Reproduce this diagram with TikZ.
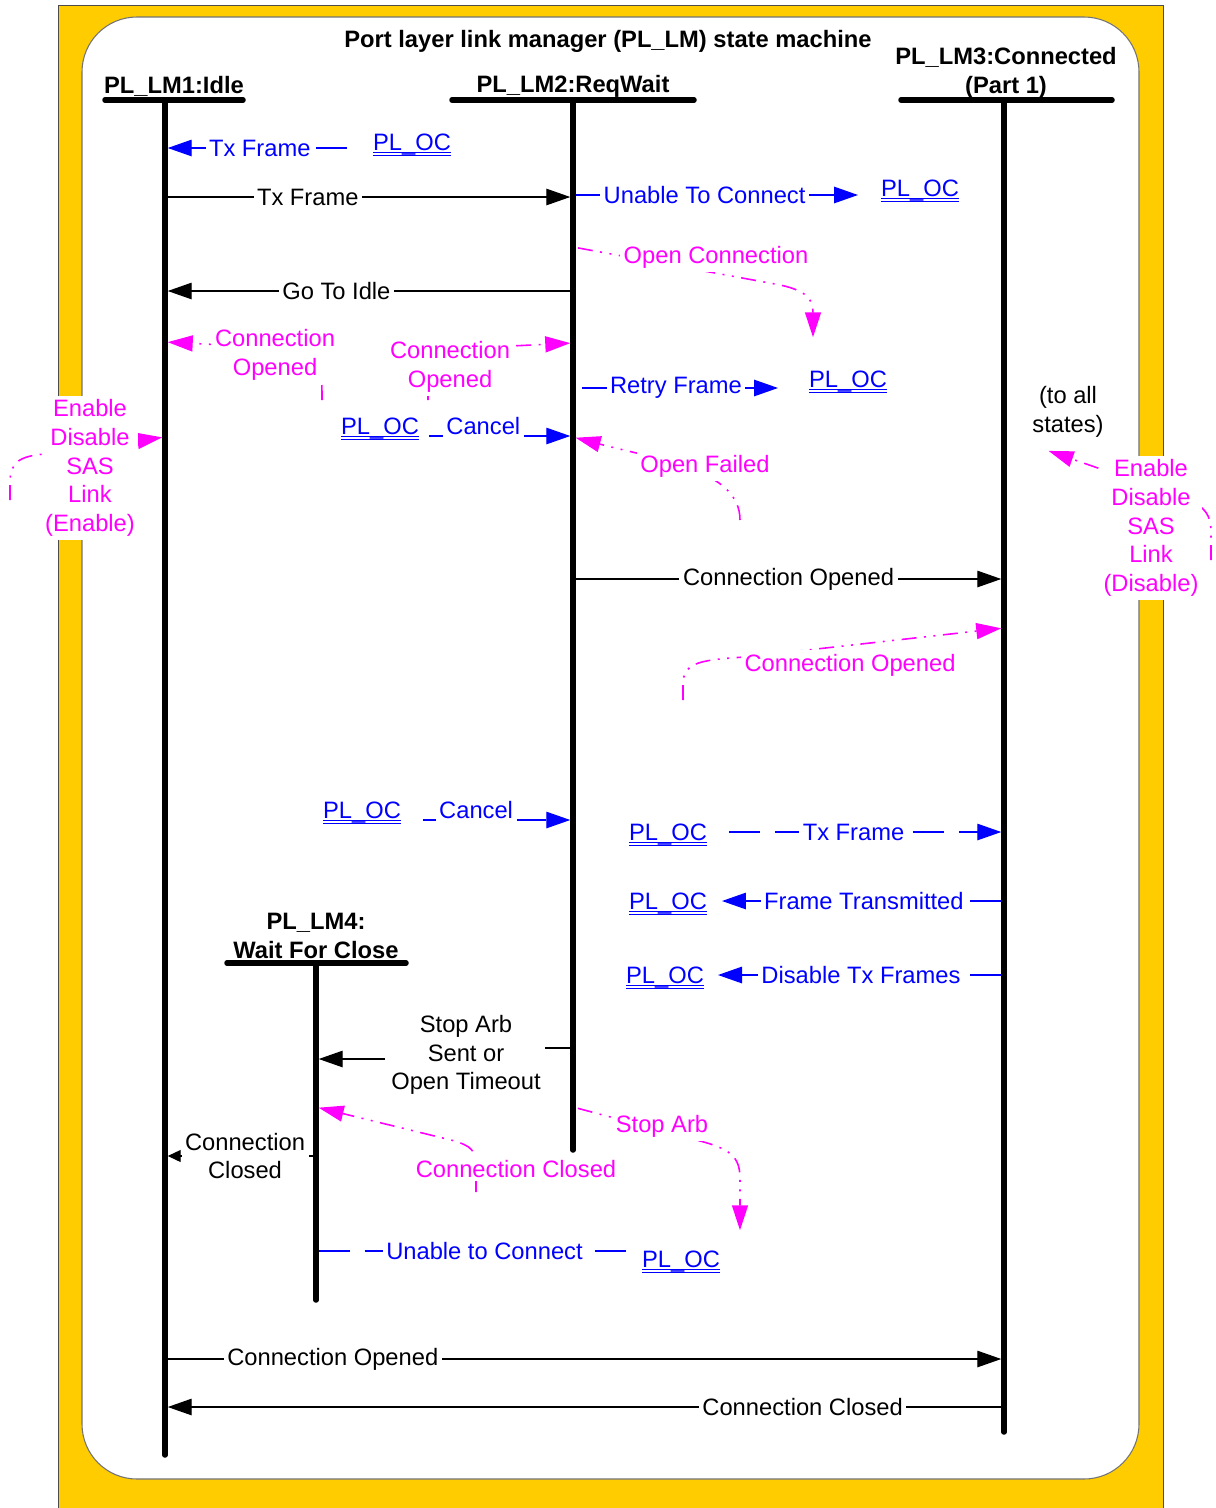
\documentclass[tikz,border=0pt]{standalone}
\usepackage{fontspec}
\setmainfont{Liberation Sans}
\usetikzlibrary{arrows.meta,positioning,calc}

\definecolor{smyellow}{RGB}{255,204,0}
\definecolor{sigpink}{RGB}{255,0,255}
\definecolor{reqblue}{RGB}{0,0,255}

% PL_OC with its double underline
\newcommand{\ocname}{\sbox0{PL\_OC}\rlap{\rule[-1.9pt]{\wd0}{0.7pt}}\rlap{\rule[-3.6pt]{\wd0}{0.7pt}}\usebox0}

\tikzset{
  every node/.style={font=\fontsize{13.5}{16.4}\selectfont},
  statehead/.style={font=\fontsize{13.5}{16.4}\selectfont\bfseries, align=center, inner sep=1pt},
  lifeline/.style={line width=0.11cm, line cap=round},
  headbar/.style={line width=0.11cm, line cap=round},
  lbl/.style={fill=white, align=center, inner sep=2pt},
  reqlbl/.style={lbl, text=reqblue},
  siglbl/.style={lbl, text=sigpink},
  oc/.style={text=reqblue, inner sep=1pt},
  msg/.style={line width=0.75pt, -{Triangle[length=0.48cm,width=0.33cm]}, shorten >=0.055cm, shorten <=0.055cm},
  req/.style={msg, reqblue, dash pattern=on 0.62cm off 0.3cm},
  sig/.style={sigpink, line width=0.9pt, -{Triangle[length=0.5cm,width=0.32cm]}, shorten >=0.055cm,
    dash pattern=on 0.3cm off 0.15cm on 0.04cm off 0.15cm on 0.04cm off 0.15cm},
}

\begin{document}
\begin{tikzpicture}[x=0.02cm, y=-0.02cm]
\useasboundingbox (0,0) rectangle (1216,1508);
\fill[white] (0,0) rectangle (1216,1508);
% frame
\filldraw[fill=smyellow, draw=black!70, line width=0.5pt] (58,5) rectangle (1163,1530);
\filldraw[fill=white, draw=black!55, line width=0.6pt, rounded corners=1.1cm] (82,17) rectangle (1139,1479);
\node[statehead] (title) at (608,41) {Port layer link manager (PL\_LM) state machine};

% states and their lifelines
\coordinate (l1) at (165,100);
\coordinate (l2) at (573,100);
\coordinate (l3) at (1004,100);
\coordinate (l4) at (316,963);
\draw[headbar] (105,100) -- (243,100);
\draw[headbar] (452,100) -- (694,100);
\draw[headbar] (901,100) -- (1112,100);
\draw[headbar] (227,963) -- (406,963);
\node[statehead] (lm1) at (174,86) {PL\_LM1:Idle};
\node[statehead] (lm2) at (573,86) {PL\_LM2:ReqWait};
\node[statehead] (lm3) at (1006,73) {PL\_LM3:Connected\\(Part 1)};
\node[statehead] (lm4) at (316,936) {PL\_LM4:\\Wait For Close};
\draw[lifeline] (l1) -- (165,1455);
\draw[lifeline] (l2) -- (573,1150);
\draw[lifeline] (l3) -- (1004,1432);
\draw[lifeline] (l4) -- (316,1300);

% state transitions
\draw[msg] (l1 |- 0,197) -- node[lbl,pos=.35] (txframe) {Tx Frame} (l2 |- 0,197);
\draw[msg] (l2 |- 0,291) -- node[lbl,pos=.58] (gotoidle) {Go To Idle} (l1 |- 0,291);
\draw[msg] (l2 |- 0,579) -- node[lbl,pos=.5] (connopened23) {Connection Opened} (l3 |- 0,579);
\node[lbl] (stoparb) at (466,1055) {Stop Arb\\Sent or\\Open Timeout};
\draw[line width=0.75pt, shorten <=0.055cm] (l2 |- 0,1048) -- (stoparb.east |- 0,1048);
\draw[msg] (stoparb.west |- 0,1059) -- (l4 |- 0,1059);
\draw[msg, -{Triangle[length=0.26cm,width=0.24cm]}] (l4 |- 0,1156) -- node[lbl,pos=.47] (connclosed41) {Connection\\Closed} (l1 |- 0,1156);
\draw[msg] (l1 |- 0,1359) -- node[lbl,pos=.2] (connopened13) {Connection Opened} (l3 |- 0,1359);
\draw[msg] (l3 |- 0,1407) -- node[lbl,pos=.24] (connclosed31) {Connection Closed} (l1 |- 0,1407);

% requests to and from PL_OC
\node[oc] (oc1) at (412,145) {\ocname};
\node[oc] (oc2) at (920,191) {\ocname};
\node[oc] (oc3) at (848,382) {\ocname};
\node[oc] (oc4) at (380,429) {\ocname};
\node[oc] (oc5) at (362,813) {\ocname};
\node[oc] (oc6) at (668,835) {\ocname};
\node[oc] (oc7) at (668,904) {\ocname};
\node[oc] (oc8) at (665,978) {\ocname};
\node[oc] (oc9) at (681,1262) {\ocname};
\draw[req, shorten <=0.48cm] (oc1.west |- 0,148) -- node[reqlbl,pos=.54] {Tx Frame} (l1 |- 0,148);
\draw[req, solid, shorten >=0.42cm] (l2 |- 0,195) -- node[reqlbl,pos=.43] {Unable To Connect} (oc2.west |- 0,195);
\draw[req, solid, shorten <=0.18cm, shorten >=0.58cm] (l2 |- 0,388) -- node[reqlbl,pos=.44] {Retry Frame} (oc3.west |- 0,388);
\draw[req, shorten <=0.16cm] (oc4.east |- 0,436) -- node[reqlbl,pos=.41,yshift=0.2cm] {Cancel} (l2 |- 0,436);
\draw[req, shorten <=0.4cm] (oc5.east |- 0,820) -- node[reqlbl,pos=.43,yshift=0.2cm] {Cancel} (l2 |- 0,820);
\draw[req, shorten <=0.4cm] (oc6.east |- 0,832) -- node[reqlbl,pos=.49] {Tx Frame} (l3 |- 0,832);
\draw[req, shorten >=0.26cm] (l3 |- 0,901) -- node[reqlbl,pos=.475] {Frame Transmitted} (oc7.east |- 0,901);
\draw[req, shorten >=0.24cm] (l3 |- 0,975) -- node[reqlbl,pos=.48] {Disable Tx Frames} (oc8.east |- 0,975);
\draw[req, -] (l4 |- 0,1251) -- node[reqlbl,pos=.52] {Unable to Connect} (oc9.west |- 0,1251);

% signals (free ends)
\coordinate (openconnend) at (813,340);
\coordinate (fromcancel1) at (322,400);
\coordinate (fromcancel2) at (428,400);
\coordinate (fromretry) at (740,520);
\coordinate (fromleft) at (10,500);
\coordinate (fromright) at (1211,560);
\coordinate (toallpt) at (1046,450);
\coordinate (fromtx) at (683,700);
\coordinate (stoparbend) at (740,1233);
\coordinate (fromunable) at (476,1192);

\draw[sig, shorten <=0.1cm] (l2 |- 0,247) -- (775,284) .. controls (808,290) and (813,300) .. (openconnend);
\node[siglbl] (openconn) at (716,257) {Open Connection};
\draw[sig] (fromcancel1) .. controls (322,350) .. (l1 |- 0,342);
\node[siglbl] (copened1) at (275,355) {Connection\\Opened};
\draw[sig] (fromcancel2) .. controls (428,350) .. (l2 |- 0,343);
\node[siglbl] (copened2) at (450,367) {Connection\\Opened};
\draw[sig] (fromretry) .. controls (740,470) and (660,460) .. (l2 |- 0,437);
\node[siglbl] (openfailed) at (705,466) {Open Failed};
\draw[sig] (fromleft) -- (10,482) .. controls (10,462) and (20,456) .. (45,454) -- (l1 |- 0,437);
\node[siglbl] (enableL) at (90,468) {Enable\\Disable\\SAS\\Link\\(Enable)};
\node[align=center] (toall) at (1068,412) {(to all\\states)};
\draw[sig] (fromright) -- (1211,532) .. controls (1211,515) and (1205,508) .. (1190,500) -- (toallpt);
\node[siglbl] (enableR) at (1151,528) {Enable\\Disable\\SAS\\Link\\(Disable)};
\draw[sig] (fromtx) -- (683,685) .. controls (683,664) and (695,660) .. (745,657) -- (l3 |- 0,628);
\node[siglbl] (copened3) at (850,665) {Connection Opened};
\draw[sig, shorten <=0.1cm] (l2 |- 0,1107) -- (700,1141) .. controls (735,1150) and (740,1160) .. (740,1180) -- (stoparbend);
\node[siglbl] (stoparbsig) at (662,1126) {Stop Arb};
\draw[sig] (fromunable) -- (476,1165) .. controls (476,1150) and (470,1146) .. (455,1141) -- (l4 |- 0,1107);
\node[siglbl] (cclosed4) at (516,1169) {Connection Closed};
\end{tikzpicture}
\end{document}
